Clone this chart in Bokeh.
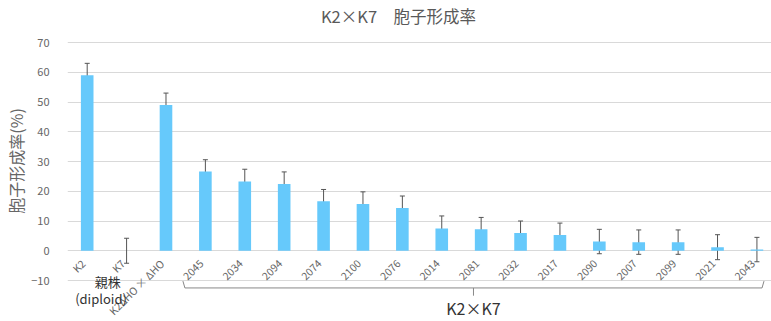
from bokeh.plotting import figure
from bokeh.models import ColumnDataSource, Range1d, FixedTicker, Whisker, Label
from bokeh.core.properties import value
from bokeh.embed import file_html
from bokeh.resources import INLINE

categories = ["K2", "K7", "K2ΔHO × ΔHO", "2045", "2034", "2094", "2074", "2100", "2076",
              "2014", "2081", "2032", "2017", "2090", "2007", "2099", "2021", "2043"]
rates = [59.0, 0.0, 49.0, 26.6, 23.3, 22.4, 16.6, 15.7, 14.4,
         7.5, 7.2, 6.0, 5.3, 3.1, 2.9, 2.9, 1.2, 0.4]
errors = [4.0, 4.2, 4.0, 4.0, 4.1, 4.1, 4.0, 4.1, 4.0,
          4.2, 4.0, 4.0, 4.0, 4.1, 4.1, 4.1, 4.2, 4.1]
y_ticks = [-10, 0, 10, 20, 30, 40, 50, 60, 70]

FONT = "Noto Sans CJK JP"
GRAY = "#666666"

xs = list(range(len(categories)))
src = ColumnDataSource(dict(
    x=xs, top=rates,
    upper=[r + e for r, e in zip(rates, errors)],
    lower=[r - e for r, e in zip(rates, errors)],
    lx=[x - 0.1 for x in xs], ly=[-3.6] * len(xs), label=categories,
))

p = figure(width=771, height=321, output_backend="svg", toolbar_location=None,
           x_range=Range1d(-0.5, 17.37), y_range=Range1d(-23.78, 84.12),
           min_border_left=67, min_border_right=0, min_border_bottom=0, min_border_top=0)
p.outline_line_color = None
p.xaxis.visible = False
p.xgrid.visible = False
p.ygrid.grid_line_color = "#d9d9d9"
p.ygrid.grid_line_width = 1

ya = p.yaxis[0]
ya.ticker = FixedTicker(ticks=y_ticks)
ya.axis_line_color = None
ya.major_tick_line_color = None
ya.minor_tick_line_color = None
ya.major_label_text_font = FONT
ya.major_label_text_font_size = "11px"
ya.major_label_text_color = GRAY
ya.major_label_standoff = 12
ya.axis_label = "胞子形成率(%)"
ya.axis_label_text_font = FONT
ya.axis_label_text_font_size = "16px"
ya.axis_label_text_font_style = "normal"
ya.axis_label_text_color = GRAY
ya.axis_label_standoff = 0

p.vbar(x="x", top="top", width=0.32, bottom=0, source=src,
       fill_color="#66c9fb", line_color=None)

w = Whisker(base="x", upper="upper", lower="lower", source=src,
            line_color="#555555", line_width=1)
w.upper_head.size = 5
w.lower_head.size = 5
w.upper_head.line_color = "#555555"
w.lower_head.line_color = "#555555"
p.add_layout(w)

p.text(x="lx", y="ly", text="label", source=src, angle=45, angle_units="deg",
       text_align="right", text_baseline="middle", text_font=value(FONT),
       text_font_size="10.5px", text_color=GRAY)

# chart title (screen pixels, measured from the plot frame's bottom-left)
p.add_layout(Label(x=331, y=306, x_units="screen", y_units="screen",
                   text="K2×K7　胞子形成率", text_align="center", text_baseline="middle",
                   text_font=FONT, text_font_size="16.5px", text_color="#595959"))

# bracket under the K2×K7 crosses
i0 = categories.index("2045")
i1 = categories.index("2043")
left_end = i0 - 0.57
right_end = i1 + 0.18
mid = (left_end + right_end) / 2
yb = -12.5
p.line([left_end, left_end + 0.05, right_end - 0.05, right_end],
       [yb + 2.3, yb, yb, yb + 2.3], line_color="#888888", line_width=1)
p.line([mid, mid], [yb, yb - 2.6], line_color="#888888", line_width=1)

p.add_layout(Label(x=mid, y=-19.2, text="K2×K7", text_align="center",
                   text_baseline="middle", text_font=FONT, text_font_size="16px",
                   text_color="#333333"))
p.add_layout(Label(x=0.52, y=-10.2, text="親株", text_align="center",
                   text_baseline="middle", text_font=FONT, text_font_size="13px",
                   text_color="#333333"))
p.add_layout(Label(x=0.35, y=-16.2, text="(diploid)", text_align="center",
                   text_baseline="middle", text_font=FONT, text_font_size="13px",
                   text_color="#333333"))

open("out.html", "w").write(file_html(p, INLINE))
